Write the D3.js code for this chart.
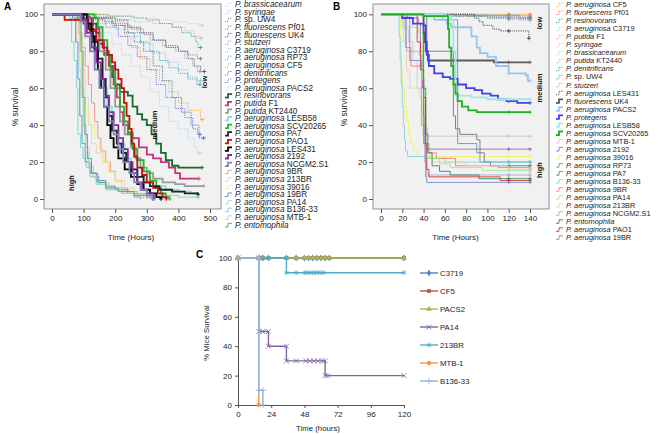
<!DOCTYPE html>
<html>
<head>
<meta charset="utf-8">
<script src="https://cdn.jsdelivr.net/npm/d3@7"></script>
<style>
body { margin: 0; background: #fff; }
svg { font-family: "Liberation Sans", Arial, sans-serif; }
.tick text { font-size: 8px; fill: #222; }
.tick line, .domain { stroke: #555; }
.grp { font-size: 7.5px; font-weight: bold; fill: #111; }
</style>
</head>
<body>
<svg id="chart" width="658" height="434"></svg>
<script>
// ---------- panel A (hours, % survival) ----------
const lowA = [
  ["P. brassicacearum", [[0,100],[150,99],[250,98],[330,97],[380,96],[430,95],[460,94],[475,94]]],
  ["P. syringae", [[0,100],[120,99],[200,97],[260,96],[320,95],[380,93],[420,91],[450,88],[465,87],[472,87]]],
  ["P. sp. UW4", [[0,100],[180,99],[260,98],[300,97],[340,95],[380,93],[410,90],[440,88],[455,85],[462,82],[470,82]]],
  ["P. fluorescens Pf01", [[0,100],[100,98],[160,96],[200,94],[250,92],[290,89],[320,86],[360,83],[400,80],[430,78],[460,76],[470,76]]],
  ["P. fluorescens UK4", [[0,100],[120,98],[200,97],[240,93],[280,90],[320,86],[360,82],[400,80],[430,76],[450,72],[470,69],[482,69]]],
  ["P. stutzeri", [[0,100],[110,98],[180,96],[230,93],[270,90],[310,86],[350,83],[390,80],[420,76],[445,72],[460,69],[468,69]]],
  ["P. aeruginosa C3719", [[0,100],[90,98],[150,95],[200,92],[240,88],[280,84],[320,79],[360,74],[400,70],[430,66],[460,64],[470,64]]],
  ["P. aeruginosa RP73", [[0,100],[130,98],[190,95],[240,90],[280,85],[310,80],[340,75],[370,71],[400,68],[430,65],[458,62],[468,62]]],
  ["P. aeruginosa CF5", [[0,100],[170,98],[200,94],[230,88],[250,82],[280,76],[310,70],[340,64],[370,58],[400,52],[430,48],[470,43],[476,43]]],
  ["P. denitrificans", [[0,100],[140,98],[190,94],[230,90],[260,85],[290,80],[320,72],[350,64],[380,55],[410,47],[440,40],[465,33],[480,33]]],
  ["P. protegens", [[0,100],[120,97],[170,93],[210,88],[240,83],[270,77],[300,70],[330,62],[360,55],[390,49],[420,44],[445,38],[460,35],[468,35]]],
  ["P. aeruginosa PACS2", [[0,100],[110,95],[150,90],[190,84],[220,78],[250,72],[280,66],[310,58],[340,50],[370,42],[400,38],[430,33],[450,28],[460,25],[468,25]]]
];
const mediumA = [
  ["P. resinovorans", [[0,100],[115,98],[125,95],[140,90],[150,84],[165,78],[180,72],[190,66],[200,62],[215,58],[240,56],[255,50],[270,46],[285,43],[300,40],[315,35],[330,30],[345,25],[360,21],[380,18],[400,17],[475,17]]],
  ["P. putida F1", [[0,100],[110,98],[130,92],[150,86],[165,80],[180,72],[195,62],[205,55],[215,47],[225,40],[240,36],[255,33],[275,28],[300,24],[320,22],[345,20],[370,17],[390,14],[405,11],[465,11]]],
  ["P. putida KT2440", [[0,100],[80,98],[110,93],[130,88],[150,80],[170,70],[185,60],[200,50],[215,42],[230,35],[250,28],[265,22],[280,17],[300,14],[320,11],[350,9],[390,8],[420,7],[480,7]]],
  ["P. aeruginosa LESB58", [[0,100],[90,97],[110,90],[130,82],[145,72],[160,60],[175,50],[190,40],[210,30],[230,22],[250,16],[270,12],[290,9],[320,7],[360,5],[400,4],[440,3],[462,2]]],
  ["P. aeruginosa SCV20265", [[0,100],[135,98],[145,93],[160,86],[175,78],[185,70],[200,60],[215,50],[228,42],[240,35],[255,27],[270,21],[290,15],[310,10],[330,6],[345,3],[360,1],[372,0]]],
  ["P. aeruginosa PA7", [[0,100],[100,97],[115,92],[130,85],[145,76],[160,65],[170,55],[180,45],[190,37],[205,30],[220,25],[235,20],[250,16],[270,12],[290,9],[310,7],[340,5],[380,4],[420,3],[462,2.5]]],
  ["P. aeruginosa PAO1", [[0,100],[40,97],[100,95],[120,91],[140,86],[160,82],[175,78],[190,74],[200,70],[210,65],[220,60],[228,52],[236,45],[245,38],[252,30],[260,23],[270,17],[285,13],[300,9],[320,6],[335,3],[350,1],[362,0]]],
  ["P. aeruginosa LES431", [[0,100],[110,95],[125,88],[135,80],[145,70],[155,60],[165,50],[175,40],[185,33],[195,28],[210,22],[230,16],[250,12],[270,8],[290,5],[310,3],[330,1],[345,0]]],
  ["P. aeruginosa 2192", [[0,100],[95,97],[110,90],[125,82],[140,74],[155,65],[165,56],[180,47],[195,40],[210,33],[225,27],[240,20],[255,14],[270,9],[285,5],[300,3],[322,0]]],
  ["P. aeruginosa NCGM2.S1", [[0,100],[90,96],[105,88],[120,80],[135,70],[150,60],[165,50],[180,42],[195,35],[210,27],[225,20],[245,14],[260,9],[280,5],[300,2],[318,0]]]
];
const highA = [
  ["P. aeruginosa 9BR", [[0,100],[70,97],[85,90],[95,82],[105,72],[115,62],[125,52],[135,42],[145,33],[155,26],[170,20],[185,15],[200,10],[220,6],[240,4],[270,2],[300,0]]],
  ["P. aeruginosa 213BR", [[0,100],[80,97],[90,85],[98,70],[105,55],[115,40],[125,30],[140,25],[160,20],[180,15],[200,10],[230,6],[260,3],[290,0]]],
  ["P. aeruginosa 39016", [[0,100],[75,98],[82,85],[88,70],[95,57],[105,48],[120,40],[135,33],[150,27],[165,20],[180,14],[200,9],[220,5],[250,2],[290,0]]],
  ["P. aeruginosa 19BR", [[0,100],[65,98],[75,85],[82,65],[88,45],[95,30],[105,20],[120,14],[140,10],[170,7],[200,5],[240,3],[260,1],[280,0]]],
  ["P. aeruginosa PA14", [[0,100],[80,98],[88,80],[93,60],[98,40],[105,25],[115,17],[130,12],[150,9],[180,6],[220,4],[270,2],[310,0]]],
  ["P. aeruginosa B136-33", [[0,100],[55,98],[62,85],[70,75],[78,60],[82,35],[90,28],[98,22],[108,17],[120,12],[140,8],[170,5],[220,3],[300,2],[400,1],[462,1]]],
  ["P. aeruginosa MTB-1", [[0,100],[70,97],[78,85],[85,70],[92,55],[100,40],[108,28],[118,18],[130,12],[150,8],[180,5],[220,3],[260,1],[290,0]]],
  ["P. entomophila", [[0,100],[85,98],[92,80],[98,55],[104,35],[112,22],[125,14],[145,9],[170,6],[210,4],[260,2],[300,1],[340,0]]]
];
const ticksA = [0, 100, 200, 300, 400, 500];

// ---------- panel B ----------
const lowB = [
  ["P. aeruginosa CF5", [[0,100],[140,100]]],
  ["P. fluorescens Pf01", [[0,100],[60,100],[80,99.5],[140,99.5]]],
  ["P. resinovorans", [[0,100],[50,99],[100,98],[140,98]]],
  ["P. aeruginosa C3719", [[0,100],[45,99],[140,99]]],
  ["P. putida F1", [[0,100],[70,99],[140,99]]],
  ["P. syringae", [[0,100],[90,99],[120,98],[140,98]]],
  ["P. brassicacearum", [[0,100],[60,99],[110,98],[140,97]]],
  ["P. putida KT2440", [[0,100],[80,99],[120,97],[140,97]]],
  ["P. denitrificans", [[0,100],[40,99],[100,98],[140,98]]],
  ["P. sp. UW4", [[0,100],[60,99.5],[130,98],[140,98]]],
  ["P. stutzeri", [[0,100],[100,99],[130,97],[140,97]]],
  ["P. aeruginosa LES431", [[0,100],[88,98],[92,96],[96,94],[105,92],[112,91],[136,91],[139,87]]]
];
const mediumB = [
  ["P. fluorescens UK4", [[0,100],[38,100],[40,90],[41,85],[42,80],[44,75],[104,75],[106,74],[140,74]]],
  ["P. aeruginosa PACS2", [[0,100],[45,99],[58,97],[62,95],[66,93],[85,88],[90,82],[93,79],[100,77],[108,72],[120,68],[136,67],[138,64],[140,64]]],
  ["P. protegens", [[0,100],[20,98],[30,95],[40,94],[42,85],[43,78],[45,72],[50,68],[58,66],[65,65],[72,62],[80,60],[88,59],[95,57],[103,56],[110,54],[118,53],[128,52],[140,52]]],
  ["P. aeruginosa LESB58", [[0,100],[60,99],[66,97],[68,80],[70,56],[85,55],[100,54],[140,54]]],
  ["P. aeruginosa SCV20265", [[0,100],[40,99],[62,99],[63,92],[64,82],[66,72],[68,62],[70,57],[72,53],[76,50],[82,48],[90,47],[140,47]]]
];
const highB = [
  ["P. aeruginosa MTB-1", [[0,100],[18,98],[22,92],[26,85],[30,75],[34,60],[38,48],[41,38],[44,34],[140,34]]],
  ["P. aeruginosa 2192", [[0,100],[25,98],[35,95],[37,80],[39,60],[40,45],[41,30],[42,27],[140,27]]],
  ["P. aeruginosa 39016", [[0,100],[17,100],[18,85],[19,70],[20,60],[22,50],[24,42],[26,35],[28,30],[31,26],[34,23],[140,23]]],
  ["P. aeruginosa RP73", [[0,100],[40,99],[50,97],[72,97],[72,30],[88,30],[90,25],[93,20],[140,20]]],
  ["P. aeruginosa PA7", [[0,100],[42,100],[43,80],[66,80],[68,45],[70,38],[74,35],[88,35],[90,32],[93,25],[97,20],[103,18],[140,18]]],
  ["P. aeruginosa B136-33", [[0,100],[16,100],[17,88],[18,75],[19,62],[20,50],[21,40],[22,32],[23,26],[25,23],[40,23],[42,22],[60,20],[140,20]]],
  ["P. aeruginosa 9BR", [[0,100],[22,100],[23,82],[28,72],[38,70],[40,50],[42,30],[45,25],[52,22],[70,18],[110,17],[140,16]]],
  ["P. aeruginosa PA14", [[0,100],[18,100],[20,93],[35,90],[39,65],[41,40],[43,28],[46,22],[55,19],[65,17],[95,15.5],[140,15]]],
  ["P. aeruginosa 213BR", [[0,100],[18,100],[21,85],[24,70],[27,60],[36,55],[39,35],[42,25],[48,20],[80,18],[120,16],[140,15]]],
  ["P. aeruginosa NCGM2.S1", [[0,100],[22,100],[24,80],[36,78],[38,40],[41,20],[43,13],[140,13]]],
  ["P. entomophila", [[0,100],[38,100],[40,60],[42,35],[44,25],[48,18],[55,15],[65,13],[92,11],[140,11]]],
  ["P. aeruginosa PAO1", [[0,100],[30,100],[34,85],[37,70],[40,55],[42,30],[43,16],[45,12],[110,12],[112,10],[140,10]]],
  ["P. aeruginosa 19BR", [[0,100],[24,100],[27,75],[38,72],[40,30],[42,12],[43,9],[140,9]]]
];
const ticksB = [0, 20, 40, 60, 80, 100, 120, 140];
const ticksSurv = [0, 20, 40, 60, 80, 100];

// ---------- panel C (mice) ----------
const obsC = [0, 15, 18, 22, 35, 42, 48, 51, 54, 57, 60, 63, 66, 120];
const miceC = [
  ["C3719", obsC.map(t => [t, 100])],
  ["CF5", obsC.map(t => [t, 100])],
  ["PACS2", obsC.map(t => [t, 100])],
  ["PA14", [[0,100],[15,100],[15,50],[18,50],[22,50],[22,40],[35,40],[35,30],[42,30],[49,30],[52,30],[55,30],[58,30],[61,30],[63,30],[63,20],[65,20],[120,20]]],
  ["213BR", [[0,100],[15,100],[18,100],[22,100],[35,100],[35,90],[42,90],[48,90],[50,90],[52,90],[54,90],[56,90],[58,90],[60,90],[62,90],[120,90]]],
  ["MTB-1", [[0,100],[15,100],[15,0]]],
  ["B136-33", [[0,100],[15,100],[15,10],[18,10],[18,0]]]
];
const ticksC = [0, 24, 48, 72, 96, 120];

// colours, per strain
const colA = {
  "P. brassicacearum": "#dcc0dc", "P. syringae": "#d2a8e6", "P. sp. UW4": "#2e9e5e",
  "P. fluorescens Pf01": "#777", "P. fluorescens UK4": "#444", "P. stutzeri": "#a888d0",
  "P. aeruginosa C3719": "#80bce0", "P. aeruginosa RP73": "#3a9fc0", "P. aeruginosa CF5": "#f5a030",
  "P. denitrificans": "#2a7090", "P. protegens": "#5a5af0", "P. aeruginosa PACS2": "#a8d0f0",
  "P. resinovorans": "#146a28", "P. putida F1": "#c8307a", "P. putida KT2440": "#9a9a9a",
  "P. aeruginosa LESB58": "#8ee0e0", "P. aeruginosa SCV20265": "#22b822", "P. aeruginosa PA7": "#222",
  "P. aeruginosa PAO1": "#c01010", "P. aeruginosa LES431": "#000", "P. aeruginosa 2192": "#8a2a9a",
  "P. aeruginosa NCGM2.S1": "#8080c0", "P. aeruginosa 9BR": "#f08080", "P. aeruginosa 213BR": "#e2d2b2",
  "P. aeruginosa 39016": "#f0f060", "P. aeruginosa 19BR": "#5070d0", "P. aeruginosa PA14": "#90e090",
  "P. aeruginosa B136-33": "#60d0d0", "P. aeruginosa MTB-1": "#c8c0e0", "P. entomophila": "#30a050"
};
const colB = {
  "P. aeruginosa CF5": "#f5a030", "P. fluorescens Pf01": "#e06060", "P. resinovorans": "#2a8a4a",
  "P. aeruginosa C3719": "#90c8e8", "P. putida F1": "#f080a0", "P. syringae": "#d0b0e0",
  "P. brassicacearum": "#ccc", "P. putida KT2440": "#aaa", "P. denitrificans": "#3a8a9a",
  "P. sp. UW4": "#40a060", "P. stutzeri": "#a0a0c0", "P. aeruginosa LES431": "#333",
  "P. fluorescens UK4": "#5a5a5a", "P. aeruginosa PACS2": "#98c4f0", "P. protegens": "#4040f0",
  "P. aeruginosa LESB58": "#a0e8e8", "P. aeruginosa SCV20265": "#20b020", "P. aeruginosa MTB-1": "#c4c4c4",
  "P. aeruginosa 2192": "#a050b0", "P. aeruginosa 39016": "#f0f050", "P. aeruginosa RP73": "#4090c0",
  "P. aeruginosa PA7": "#666", "P. aeruginosa B136-33": "#70d0e0", "P. aeruginosa 9BR": "#f07070",
  "P. aeruginosa PA14": "#90e890", "P. aeruginosa 213BR": "#e8d0a0", "P. aeruginosa NCGM2.S1": "#a0a0d8",
  "P. entomophila": "#208040", "P. aeruginosa PAO1": "#d02020", "P. aeruginosa 19BR": "#7080d0"
};
const colC = { "C3719": "#4F81BD", "CF5": "#C0504D", "PACS2": "#9BBB59", "PA14": "#8064A2",
  "213BR": "#4BACC6", "MTB-1": "#F79646", "B136-33": "#8EB4E3" };

const svg = d3.select("#chart");
const grpStyle = { low: { w: 0.8, dash: "1.2,1" }, medium: { w: 1.8, dash: null }, high: { w: 0.8, dash: null } };

function survivalPanel(opt) {
  const x = d3.scaleLinear().domain(opt.xDomain).range(opt.xRange);
  const y = d3.scaleLinear().domain([0, 100]).range([199, 14.3]);
  const g = svg.append("g");
  g.append("rect").attr("x", opt.frame[0]).attr("y", 4)
    .attr("width", opt.frame[1] - opt.frame[0]).attr("height", 205)
    .attr("fill", "#f1f1f1").attr("stroke", "#777").attr("stroke-width", 0.8);

  g.append("g").attr("transform", `translate(${opt.frame[0]},0)`)
    .call(d3.axisLeft(y).tickValues(ticksSurv).tickSize(4).tickPadding(2))
    .call(a => a.select(".domain").remove());
  g.append("g").attr("transform", "translate(0,209)")
    .call(d3.axisBottom(x).tickValues(opt.ticks).tickSize(4).tickPadding(2))
    .call(a => a.select(".domain").remove());

  const line = d3.line().x(d => x(d[0])).y(d => y(d[1])).curve(d3.curveStepAfter);
  const groups = [["low", opt.low], ["high", opt.high], ["medium", opt.medium]];
  groups.forEach(([gname, arr]) => {
    const st = grpStyle[gname];
    arr.forEach(([name, pts]) => {
      g.append("path").attr("d", line(pts)).attr("fill", "none")
        .attr("stroke", opt.col[name]).attr("stroke-width", st.w)
        .attr("stroke-dasharray", st.dash);
      const last = pts[pts.length - 1];
      if (last[1] > 0.5 || gname !== "high") {
        const cx = x(last[0]), cy = y(last[1]);
        g.append("path").attr("d", `M${cx - 2},${cy}H${cx + 2}M${cx},${cy - 2}V${cy + 2}`)
          .attr("stroke", opt.col[name]).attr("stroke-width", 0.8);
      }
      if (opt.mid && last[1] > 0.5) {
        const tm = opt.mid, v = pts.filter(p => p[0] <= tm).pop()[1];
        const cx = x(tm), cy = y(v);
        g.append("path").attr("d", `M${cx - 2},${cy}H${cx + 2}M${cx},${cy - 2}V${cy + 2}`)
          .attr("stroke", opt.col[name]).attr("stroke-width", 0.8);
      }
    });
  });

  g.append("text").attr("x", opt.frame[0] - 40).attr("y", 10)
    .attr("font-size", 10).attr("font-weight", "bold").text(opt.letter);
  g.append("text").attr("transform", `translate(${opt.frame[0] - 26},107) rotate(-90)`)
    .attr("text-anchor", "middle").attr("font-size", 8.5).attr("fill", "#222").text("% survival");
  g.append("text").attr("x", (opt.xRange[0] + opt.xRange[1]) / 2).attr("y", 240)
    .attr("text-anchor", "middle").attr("font-size", 8).attr("fill", "#222").text("Time (Hours)");
  opt.labels.forEach(([t, lx, ly]) => {
    g.append("text").attr("class", "grp").attr("transform", `translate(${lx},${ly}) rotate(-90)`)
      .attr("text-anchor", "middle").text(t);
  });

  // legend
  const lg = g.append("g").attr("transform", `translate(${opt.lx},${opt.ly})`);
  opt.legend.forEach(([name, gname], i) => {
    const st = grpStyle[gname];
    const row = lg.append("g").attr("transform", `translate(0,${i * opt.lstep})`);
    row.append("path").attr("d", "M0,2H3V-1.5H7").attr("fill", "none")
      .attr("stroke", opt.col[name]).attr("stroke-width", gname === "medium" ? 1.8 : 0.8)
      .attr("stroke-dasharray", st.dash);
    const words = name.split(" ");
    const t = row.append("text").attr("x", 10).attr("y", 2.7)
      .attr("font-size", opt.lfont).attr("fill", "#222");
    words.forEach((w, k) => {
      const italic = k === 0 || (k === 1 && w !== "sp.");
      t.append("tspan").attr("font-style", italic ? "italic" : "normal")
        .text((k ? " " : "") + w);
    });
  });
}

survivalPanel({
  letter: "A", xDomain: [0, 500], xRange: [52, 210], frame: [44, 221], ticks: ticksA,
  low: lowA, medium: mediumA, high: highA, col: colA,
  labels: [["low", 207, 82], ["medium", 157, 125], ["high", 74, 183]],
  legend: [...lowA.map(d => [d[0], "low"]), ...mediumA.map(d => [d[0], "medium"]), ...highA.map(d => [d[0], "high"])],
  lx: 225, ly: 4.5, lstep: 7.6, lfont: 8.2
});
survivalPanel({
  letter: "B", xDomain: [0, 140], xRange: [381, 530], frame: [373, 549], ticks: ticksB,
  low: lowB, medium: mediumB, high: highB, col: colB, mid: 120,
  labels: [["low", 542, 23], ["medium", 542, 88], ["high", 542, 170]],
  legend: [...lowB.map(d => [d[0], "low"]), ...mediumB.map(d => [d[0], "medium"]), ...highB.map(d => [d[0], "high"])],
  lx: 556, ly: 4.5, lstep: 8.03, lfont: 7.4
});

// ---------- panel C ----------
const xC = d3.scaleLinear().domain([0, 120]).range([238, 404]);
const yC = d3.scaleLinear().domain([0, 100]).range([405, 258]);
const gC = svg.append("g");
gC.append("g").attr("transform", "translate(238,0)")
  .call(d3.axisLeft(yC).tickValues(ticksSurv).tickSize(3).tickSizeOuter(0).tickPadding(3))
  .call(a => a.select(".domain").attr("stroke", "#999"));
gC.append("g").attr("transform", "translate(0,405)")
  .call(d3.axisBottom(xC).tickValues(ticksC).tickSize(3).tickSizeOuter(0).tickPadding(3))
  .call(a => a.select(".domain").attr("stroke", "#999"));
gC.selectAll(".tick line").attr("stroke", "#999");

const sym = {
  "C3719": d3.symbol(d3.symbolDiamond, 14), "CF5": d3.symbol(d3.symbolSquare, 14),
  "PACS2": d3.symbol(d3.symbolTriangle, 14), "PA14": d3.symbol(d3.symbolTimes, 18),
  "213BR": d3.symbol(d3.symbolAsterisk, 18), "MTB-1": d3.symbol(d3.symbolCircle, 16),
  "B136-33": d3.symbol(d3.symbolPlus, 16)
};
const stroked = ["PA14", "213BR", "B136-33"];
const lineC = d3.line().x(d => xC(d[0])).y(d => yC(d[1]));
function marker(sel, name, cx, cy) {
  const p = sel.append("path").attr("d", sym[name]()).attr("transform", `translate(${cx},${cy})`);
  if (stroked.includes(name)) p.attr("fill", "none").attr("stroke", colC[name]).attr("stroke-width", 0.8);
  else p.attr("fill", colC[name]);
}
miceC.forEach(([name, pts]) => {
  gC.append("path").attr("d", lineC(pts)).attr("fill", "none")
    .attr("stroke", colC[name]).attr("stroke-width", 1.4);
  pts.forEach(p => marker(gC, name, xC(p[0]), yC(p[1])));
});
miceC.forEach(([name], i) => {
  const ly = 273 + i * 18;
  gC.append("line").attr("x1", 420).attr("x2", 438).attr("y1", ly).attr("y2", ly)
    .attr("stroke", colC[name]).attr("stroke-width", 1.4);
  marker(gC, name, 429, ly);
  gC.append("text").attr("x", 440).attr("y", ly + 2.8).attr("font-size", 7.8).attr("fill", "#222").text(name);
});
gC.append("text").attr("x", 196).attr("y", 258).attr("font-size", 10).attr("font-weight", "bold").text("C");
gC.append("text").attr("transform", "translate(209,333) rotate(-90)").attr("text-anchor", "middle")
  .attr("font-size", 7.8).attr("fill", "#222").text("% Mice Survival");
gC.append("text").attr("x", 318).attr("y", 431).attr("text-anchor", "middle")
  .attr("font-size", 7.8).attr("fill", "#222").text("Time (hours)");
</script>
</body>
</html>
